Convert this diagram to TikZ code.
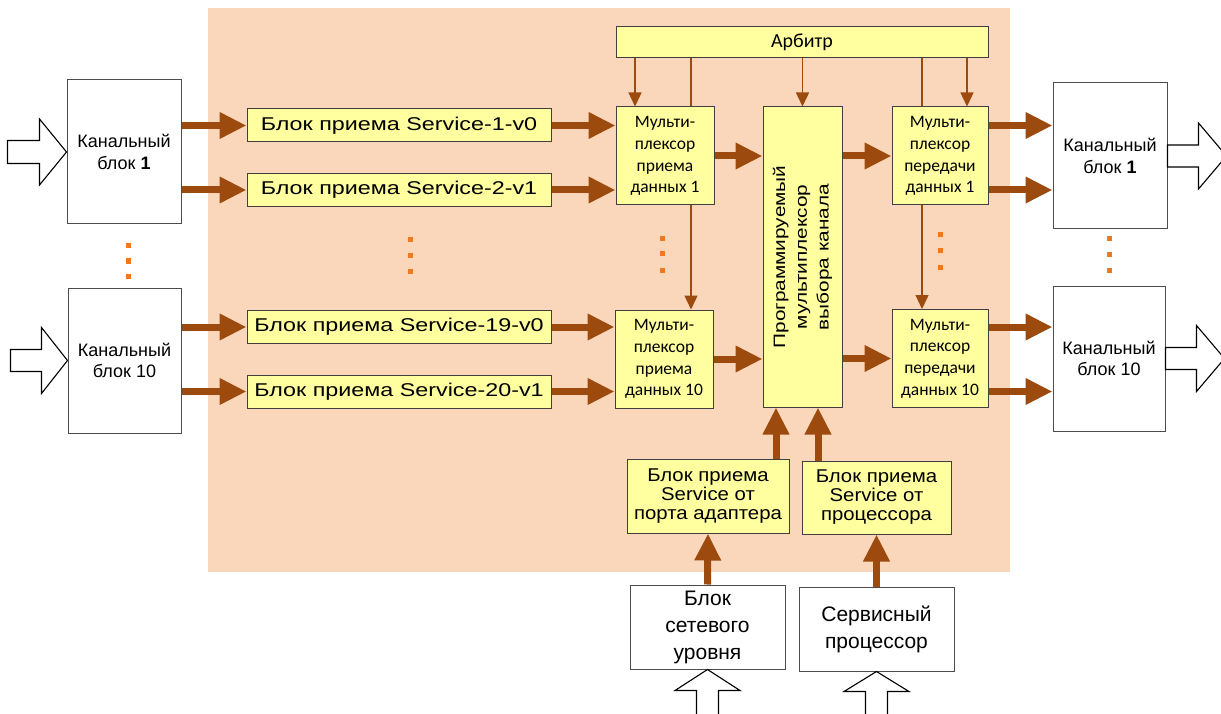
\documentclass[tikz,border=0pt]{standalone}
\usepackage{fontspec}
\setmainfont{Liberation Sans}
\newfontfamily\calfont{Carlito}
\newfontfamily\widefont[FakeStretch=1.26]{Liberation Sans}
\newfontfamily\midfont[FakeStretch=1.1]{Liberation Sans}
\usetikzlibrary{arrows.meta}
\pgfdeclarelayer{back}
\pgfdeclarelayer{mid}
\pgfsetlayers{back,mid,main}
\definecolor{peach}{RGB}{250,215,186}
\definecolor{lyel}{RGB}{255,255,160}
\definecolor{brn}{RGB}{156,74,14}
\definecolor{dotor}{RGB}{240,120,30}
\tikzset{
  yb/.style={draw=black!75, fill=lyel, line width=1pt, inner sep=0pt, align=center},
  wb/.style={draw=black!70, fill=white, line width=1pt, inner sep=0pt, align=center},
  fat/.style={draw=brn, line width=7pt, -{Triangle[length=27pt,width=25pt]}},
  slim/.style={draw=brn, line width=1.4pt, -{Triangle[length=14pt,width=13pt]}},
  hollow/.style={draw=black, line width=1.1pt, fill=white, line join=miter},
  chfont/.style={font=\fontsize{18}{21.5}\selectfont},
  rbfont/.style={font=\widefont\fontsize{18.5}{22}\selectfont},
  muxfont/.style={font=\calfont\fontsize{17.5}{21.7}\selectfont},
}
\begin{document}
\begin{tikzpicture}[x=1pt,y=-1pt]
\useasboundingbox (0,0) rectangle (1221,714);
\clip (0,0) rectangle (1221,714);
\begin{pgfonlayer}{back}
\fill[peach] (208,8) rectangle (1010,572);
\end{pgfonlayer}

% channel blocks
\node[wb, chfont, minimum width=114, minimum height=144] (cb1) at (124,152) {Канальный\\блок \textbf{1}};
\node[wb, chfont, minimum width=113, minimum height=145] (cb10) at (124.5,360.5) {Канальный\\блок 10};
\node[wb, chfont, minimum width=114, minimum height=146] (cbR1) at (1110,156) {Канальный\\блок \textbf{1}};
\node[wb, chfont, minimum width=112, minimum height=145] (cbR10) at (1109,358.5) {Канальный\\блок 10};

% receive blocks
\node[yb, rbfont, minimum width=304, minimum height=33] (rb1) at (399,125.5) {Блок приема Service-1-v0};
\node[yb, rbfont, minimum width=304, minimum height=33] (rb2) at (399,190) {Блок приема Service-2-v1};
\node[yb, rbfont, minimum width=304, minimum height=33] (rb19) at (399,327) {Блок приема Service-19-v0};
\node[yb, rbfont, minimum width=304, minimum height=33] (rb20) at (399,391.5) {Блок приема Service-20-v1};

% arbiter and multiplexers
\node[yb, font=\calfont\fontsize{20}{24}\selectfont, minimum width=372, minimum height=31] (arb) at (802,42.5) {Арбитр};
\node[yb, muxfont, minimum width=98, minimum height=98] (mr1) at (665,156) {Мульти-\\плексор\\приема\\данных 1};
\node[yb, muxfont, minimum width=98, minimum height=98] (mr10) at (664,359) {Мульти-\\плексор\\приема\\данных 10};
\node[yb, muxfont, minimum width=96, minimum height=98] (mt1) at (940,156) {Мульти-\\плексор\\передачи\\данных 1};
\node[yb, muxfont, minimum width=96, minimum height=98] (mt10) at (940,358.5) {Мульти-\\плексор\\передачи\\данных 10};
\node[yb, minimum width=79, minimum height=300] (pm) at (802.5,257) {};
\node[rotate=90, align=center, font=\widefont\fontsize{16.5}{21.7}\selectfont] (pmt) at (pm.center) {Программируемый\\мультиплексор\\выбора канала};

% bottom blocks
\node[yb, font=\midfont\fontsize{18.5}{19}\selectfont, minimum width=162, minimum height=74] (ba) at (708,496) {Блок приема\\Service от\\порта адаптера};
\node[yb, font=\midfont\fontsize{18.5}{19}\selectfont, minimum width=149, minimum height=73] (bp) at (876.5,497.5) {Блок приема\\Service от\\процессора};
\node[wb, font=\fontsize{21}{27}\selectfont, minimum width=155, minimum height=84] (nl) at (707.5,627) {Блок\\сетевого\\уровня};
\node[wb, font=\fontsize{21}{27}\selectfont, minimum width=155, minimum height=84] (sp) at (876.5,629) {Сервисный\\процессор};

% helper x positions
\coordinate (xa) at (635,0);
\coordinate (xb) at (691,0);
\coordinate (xc) at (922,0);
\coordinate (xd) at (967,0);
\coordinate (xe) at (776,0);
\coordinate (xf) at (818,0);

% thin arbiter arrows
\draw[slim] (arb.south -| xa) -- (mr1.north -| xa);
\draw[slim] (arb.south -| pm.north) -- (pm.north);
\draw[slim] (arb.south -| xd) -- (mt1.north -| xd);
\begin{pgfonlayer}{mid}
\draw[slim] (arb.south -| xb) -- (mr10.north -| xb);
\draw[slim] (arb.south -| xc) -- (mt10.north -| xc);
\end{pgfonlayer}

% thick arrows
\draw[fat] (cb1.east |- rb1.west) -- (rb1.west);
\draw[fat] (cb1.east |- rb2.west) -- (rb2.west);
\draw[fat] (cb10.east |- rb19.west) -- (rb19.west);
\draw[fat] (cb10.east |- rb20.west) -- (rb20.west);
\draw[fat] (rb1.east) -- (rb1.east -| mr1.west);
\draw[fat] (rb2.east) -- (rb2.east -| mr1.west);
\draw[fat] (rb19.east) -- (rb19.east -| mr10.west);
\draw[fat] (rb20.east) -- (rb20.east -| mr10.west);
\draw[fat] (mr1.east) -- (mr1.east -| pm.west);
\draw[fat] (mr10.east) -- (mr10.east -| pm.west);
\draw[fat] (pm.east |- mt1.west) -- (mt1.west);
\draw[fat] (pm.east |- mt10.west) -- (mt10.west);
\draw[fat] (mt1.east |- rb1.east) -- (cbR1.west |- rb1.east);
\draw[fat] (mt1.east |- rb2.east) -- (cbR1.west |- rb2.east);
\draw[fat] (mt10.east |- rb19.east) -- (cbR10.west |- rb19.east);
\draw[fat] (mt10.east |- rb20.east) -- (cbR10.west |- rb20.east);
\draw[fat] (ba.north -| xe) -- (pm.south -| xe);
\draw[fat] (bp.north -| xf) -- (pm.south -| xf);
\draw[fat] (nl.north) -- (ba.south);
\draw[fat] (sp.north) -- (bp.south);

% hollow arrows
\draw[hollow, shift={(cb1.west)}] (-59,-11.5) -- (-27,-11.5) -- (-27,-33) -- (0,0) -- (-27,33) -- (-27,11.5) -- (-59,11.5) -- cycle;
\draw[hollow, shift={(cb10.west)}] (-57,-11) -- (-26,-11) -- (-26,-33) -- (0,0) -- (-26,33) -- (-26,11) -- (-57,11) -- cycle;
\draw[hollow, shift={(cbR1.east)}] (0,-11) -- (31,-11) -- (31,-33) -- (59,0) -- (31,33) -- (31,11) -- (0,11) -- cycle;
\draw[hollow, shift={(cbR10.east)}] (0,-11) -- (31,-11) -- (31,-33) -- (59,0) -- (31,33) -- (31,11) -- (0,11) -- cycle;
\draw[hollow, shift={(nl.south)}] (0,0) -- (32.5,21) -- (11,21) -- (11,60) -- (-11,60) -- (-11,21) -- (-32.5,21) -- cycle;
\draw[hollow, shift={(sp.south)}] (0,0) -- (32.5,20) -- (11,20) -- (11,60) -- (-11,60) -- (-11,20) -- (-32.5,20) -- cycle;

% orange ellipsis dots
\foreach \px/\py in {128/246,128/261,128/276, 410/240,410/256,410/271, 662/239,662/254,662/270, 940/235,940/251,940/267, 1109/239,1109/255,1109/270}
  \fill[dotor] (\px-2.5,\py-2.5) rectangle ++(5,5);
\end{tikzpicture}
\end{document}
